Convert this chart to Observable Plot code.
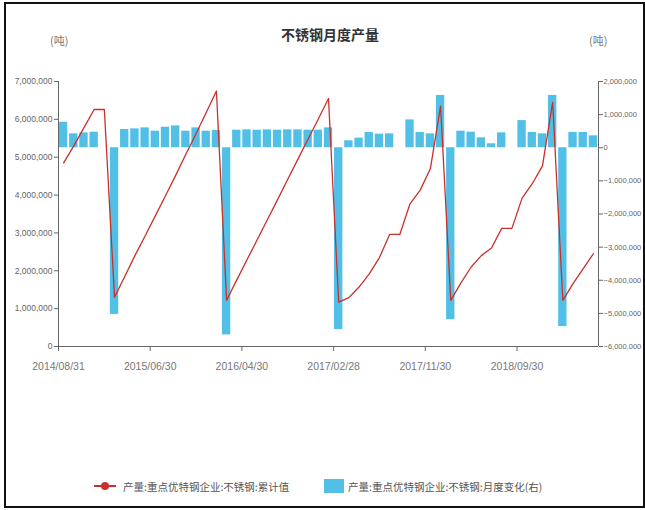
<!DOCTYPE html>
<html>
<head>
<meta charset="utf-8">
<script src="https://cdn.jsdelivr.net/npm/d3@7"></script>
<script src="https://cdn.jsdelivr.net/npm/@observablehq/plot@0.6"></script>
<style>
  html, body { margin: 0; padding: 0; background: #fff; }
  #fig { position: relative; width: 645px; height: 510px; overflow: hidden; font-family: "Noto Sans CJK SC", "Liberation Sans", sans-serif; }
  #frame { position: absolute; left: 4px; top: 2px; width: 637px; height: 502px; border: 2px solid #111; pointer-events: none; }
  #chart { position: absolute; left: 0; top: 0; }
  .txt { position: absolute; white-space: nowrap; }
  #title { left: 281px; top: 24px; font-size: 14px; font-weight: bold; color: #333; }
  .unit { top: 32px; font-size: 11px; color: #777; }
  #legend { position: absolute; top: 478px; left: 0; width: 645px; height: 20px; font-size: 10.5px; color: #555; }
</style>
</head>
<body>
<div id="fig">
  <div id="chart"></div>
  <div id="title" class="txt">不锈钢月度产量</div>
  <div class="txt unit" style="left:50px">(吨)</div>
  <div class="txt unit" style="left:589px">(吨)</div>
  <div id="legend"></div>
  <div id="frame"></div>
</div>
<script>
// Month-end dates (January is reported together with February)
const dates = [
  "2014/08/31","2014/09/30","2014/10/31","2014/11/30","2014/12/31",
  "2015/02/28","2015/03/31","2015/04/30","2015/05/31","2015/06/30","2015/07/31","2015/08/31","2015/09/30","2015/10/31","2015/11/30","2015/12/31",
  "2016/02/29","2016/03/31","2016/04/30","2016/05/31","2016/06/30","2016/07/31","2016/08/31","2016/09/30","2016/10/31","2016/11/30","2016/12/31",
  "2017/02/28","2017/03/31","2017/04/30","2017/05/31","2017/06/30","2017/07/31","2017/08/31","2017/09/30","2017/10/31","2017/11/30","2017/12/31",
  "2018/02/28","2018/03/31","2018/04/30","2018/05/31","2018/06/30","2018/07/31","2018/08/31","2018/09/30","2018/10/31","2018/11/30","2018/12/31",
  "2019/02/28","2019/03/31","2019/04/30","2019/05/31"
];

// 产量:重点优特钢企业:不锈钢:累计值 (tonnes, left axis)
const cumulative = [
  4850000, 5300000, 5780000, 6260000, 6260000,
  1300000, 1850000, 2400000, 2920000, 3450000, 3980000, 4520000, 5080000, 5620000, 6180000, 6750000,
  1220000, 1760000, 2290000, 2820000, 3350000, 3880000, 4420000, 4950000, 5480000, 6010000, 6550000,
  1170000, 1290000, 1570000, 1920000, 2350000, 2960000, 2960000, 3770000, 4130000, 4700000, 6350000,
  1220000, 1680000, 2100000, 2400000, 2600000, 3120000, 3120000, 3920000, 4300000, 4770000, 6450000,
  1220000, 1660000, 2060000, 2450000
];

// 产量:重点优特钢企业:不锈钢:月度变化 (tonnes, right axis)
const monthlyChange = [
  770000, 420000, 450000, 470000, 0,
  -5030000, 550000, 570000, 600000, 500000, 620000, 660000, 500000, 600000, 500000, 520000,
  -5650000, 530000, 540000, 530000, 540000, 530000, 540000, 540000, 530000, 530000, 600000,
  -5490000, 210000, 290000, 460000, 410000, 420000, 0, 840000, 460000, 420000, 1580000,
  -5190000, 500000, 470000, 300000, 120000, 450000, 0, 820000, 460000, 420000, 1580000,
  -5400000, 460000, 460000, 360000
];

const leftTicks = [0, 1000000, 2000000, 3000000, 4000000, 5000000, 6000000, 7000000];
const rightTicks = [-6000000, -5000000, -4000000, -3000000, -2000000, -1000000, 0, 1000000, 2000000];
const labelEvery = 9;

// right-axis values share the left y scale through a linear map
const leftMax = 7000000, rightMin = -6000000, rightMax = 2000000;
const toLeft = r => (r - rightMin) * leftMax / (rightMax - rightMin);
const fromLeft = v => Math.round(v * (rightMax - rightMin) / leftMax + rightMin);

const rows = dates.map((date, i) => ({i, date, cum: cumulative[i], chg: monthlyChange[i]}));
const fmt = d3.format(",");
const n = dates.length;

const lineColor = "#c9302c";
const barColor = "#52c0e6";
const axisColor = "#666";

const chart = Plot.plot({
  width: 645,
  height: 400,
  marginTop: 81,
  marginBottom: 54,
  marginLeft: 58,
  marginRight: 47,
  style: {fontFamily: "'Liberation Sans', sans-serif", fontSize: "8.5px", color: "#666", background: "transparent"},
  x: {type: "linear", domain: [0, n]},
  y: {domain: [0, leftMax]},
  marks: [
    Plot.rectY(rows, {
      x1: d => d.i + 0.09, x2: d => d.i + 0.91,
      y1: () => toLeft(0), y2: d => toLeft(d.chg),
      fill: barColor
    }),
    Plot.line(rows, {x: d => d.i + 0.5, y: "cum", stroke: lineColor, strokeWidth: 1.3}),
    Plot.ruleX([0, n], {stroke: axisColor, strokeWidth: 1}),
    Plot.ruleY([0], {stroke: axisColor, strokeWidth: 1}),
    Plot.axisY(leftTicks, {anchor: "left", tickFormat: fmt, tickSize: 4, tickPadding: 2, label: null, stroke: axisColor}),
    Plot.axisY(rightTicks.map(toLeft), {
      anchor: "right", tickFormat: v => fmt(fromLeft(v)), tickSize: 4, tickPadding: 1,
      fontSize: "7.5px", label: null, stroke: axisColor
    }),
    Plot.axisX(d3.range(0, n, labelEvery), {
      anchor: "bottom", tickFormat: i => dates[i], tickSize: 5, tickPadding: 11,
      fontSize: "10.5px", fill: "#777", stroke: axisColor, label: null
    })
  ]
});
document.getElementById("chart").appendChild(chart);

// legend row
const legend = d3.select("#legend");
const item1 = legend.append("div").style("position", "absolute").style("left", "94px").style("top", "0px").style("display", "flex").style("align-items", "center");
const s1 = item1.append("svg").attr("width", 24).attr("height", 16);
s1.append("line").attr("x1", 0).attr("x2", 22).attr("y1", 8).attr("y2", 8).attr("stroke", lineColor).attr("stroke-width", 2);
s1.append("circle").attr("cx", 11).attr("cy", 8).attr("r", 4).attr("fill", lineColor);
item1.append("span").style("margin-left", "5px").text("产量:重点优特钢企业:不锈钢:累计值");

const item2 = legend.append("div").style("position", "absolute").style("left", "324px").style("top", "0px").style("display", "flex").style("align-items", "center");
const s2 = item2.append("svg").attr("width", 20).attr("height", 16);
s2.append("rect").attr("x", 0).attr("y", 1).attr("width", 20).attr("height", 14).attr("fill", barColor);
item2.append("span").style("margin-left", "4px").text("产量:重点优特钢企业:不锈钢:月度变化(右)");
</script>
</body>
</html>
